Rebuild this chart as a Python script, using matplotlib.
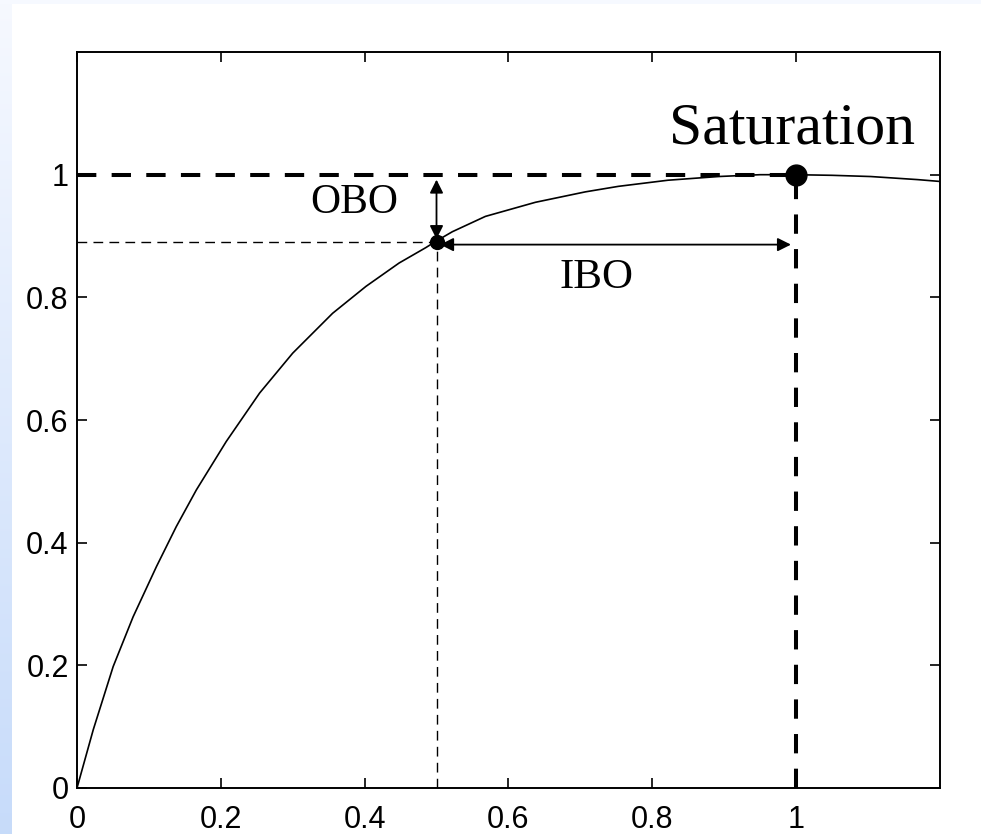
import numpy as np
import matplotlib
matplotlib.use('Agg')
import matplotlib.pyplot as plt

# AM/AM transfer curve, read point by point
curve_x = [0.0, 0.0226, 0.0503, 0.078, 0.1105, 0.138, 0.166, 0.2076, 0.254,
           0.300, 0.3555, 0.402, 0.448, 0.485, 0.5, 0.522, 0.568, 0.6376,
           0.707, 0.753, 0.822, 0.892, 0.95, 0.998, 1.05, 1.104, 1.169, 1.2]
curve_y = [0.0, 0.095, 0.198, 0.279, 0.361, 0.426, 0.486, 0.565, 0.644,
           0.709, 0.774, 0.818, 0.856, 0.881, 0.892, 0.907, 0.932, 0.955,
           0.972, 0.981, 0.991, 0.997, 1.0, 1.0, 0.999, 0.997, 0.992, 0.989]

op_x, op_y = 0.5, 0.89          # operating point
sat_x, sat_y = 1.0, 1.0         # saturation point
ibo_y = 0.886

xticks = [0, 0.2, 0.4, 0.6, 0.8, 1]
yticks = [0, 0.2, 0.4, 0.6, 0.8, 1]
xtick_labels = ['0', '0.2', '0.4', '0.6', '0.8', '1']
ytick_labels = ['0', '0.2', '0.4', '0.6', '0.8', '1']

fig = plt.figure(figsize=(9.81, 8.34), dpi=100)

# slide background strips
bg = fig.add_axes([0, 0, 1, 1], zorder=-10)
bg.set_axis_off()
bg.set_xlim(0, 981)
bg.set_ylim(834, 0)
grad = np.linspace(0, 1, 256).reshape(-1, 1)
top_col = np.array([0.965, 0.975, 1.0])
bot_col = np.array([0.78, 0.86, 0.98])
strip = top_col + (bot_col - top_col) * grad
bg.imshow(strip[:, None, :].repeat(2, axis=1), extent=[0, 12, 834, 0],
          aspect='auto', interpolation='bilinear')
bg.fill_between([0, 981], 0, 4, color='#f6f9ff', lw=0)

ax = fig.add_axes([0.0785, 0.0552, 0.8795, 0.8824])

tick_font = ['Liberation Sans', 'DejaVu Sans']
serif_font = ['Liberation Serif', 'DejaVu Serif']

ax.plot(curve_x, curve_y, color='black', lw=1.2, zorder=3)

# saturation guides
ax.plot([0, sat_x], [sat_y, sat_y], color='black', lw=2.9, dashes=(4.8, 3.8))
ax.plot([sat_x, sat_x], [0, sat_y], color='black', lw=2.9, dashes=(4.8, 3.8))

# operating point guides
ax.plot([0, op_x], [op_y, op_y], color='black', lw=1.0, dashes=(7, 4.5))
ax.plot([op_x, op_x], [0, op_y], color='black', lw=1.0, dashes=(7, 4.5))

ax.plot(op_x, op_y, 'o', color='black', ms=10, zorder=5)
ax.plot(sat_x, sat_y, 'o', color='black', ms=15, zorder=5)

# back-off arrows
ax.annotate('', xy=(op_x, 0.992), xytext=(op_x, op_y + 0.005),
            arrowprops=dict(arrowstyle='<|-|>', color='black', lw=1.3,
                            mutation_scale=20, shrinkA=0, shrinkB=0))
ax.annotate('', xy=(0.993, ibo_y), xytext=(op_x + 0.005, ibo_y),
            arrowprops=dict(arrowstyle='<|-|>', color='black', lw=1.3,
                            mutation_scale=20, shrinkA=0, shrinkB=0))

ax.text(0.385, 0.955, 'OBO', family=serif_font, fontsize=30,
        ha='center', va='center')
ax.text(0.722, 0.832, 'IBO', family=serif_font, fontsize=31,
        ha='center', va='center')
ax.text(0.995, 1.073, 'Saturation', family=serif_font, fontsize=43,
        ha='center', va='center')

ax.set_xlim(0, 1.2)
ax.set_ylim(0, 1.2)
ax.set_xticks(xticks)
ax.set_yticks(yticks)
ax.set_xticklabels(xtick_labels, family=tick_font, fontsize=22)
ax.set_yticklabels(ytick_labels, family=tick_font, fontsize=22)
ax.tick_params(direction='in', length=7, width=1.2, top=True, right=True)
ax.tick_params(axis='x', pad=12)
ax.tick_params(axis='y', pad=6)
for sp in ax.spines.values():
    sp.set_linewidth(1.4)

fig.savefig('out.png', dpi=100)
